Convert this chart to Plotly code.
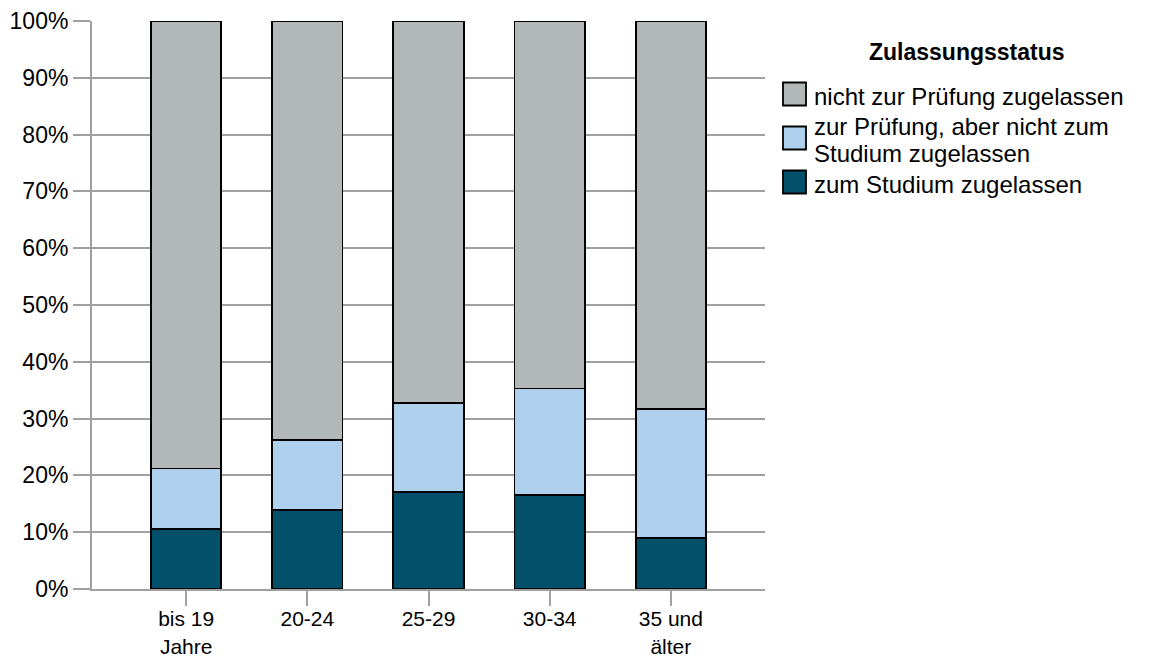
import plotly.graph_objects as go

categories = ["bis 19<br>Jahre", "20-24", "25-29", "30-34", "35 und<br>älter"]
studium = [10.6, 13.9, 17.1, 16.5, 9.0]
pruefung = [10.6, 12.3, 15.6, 18.8, 22.7]
nicht = [78.8, 73.8, 67.3, 64.7, 68.3]

legend_title = "Zulassungsstatus"
series = [
    ("zum Studium zugelassen", studium, "#03506a"),
    ("zur Prüfung, aber nicht zum\nStudium zugelassen", pruefung, "#afd0ed"),
    ("nicht zur Prüfung zugelassen", nicht, "#b2b7b7"),
]

# page body has an 8px default margin -> shift layout by 8px
OFF = 8
W, H = 1153 - OFF, 660 - OFF
# plot area in reference pixels: x 92..765, y 21..589
L, T = 92 - OFF, 21 - OFF
R, B = W - (765 - OFF), H - (589 - OFF)
PW, PH = W - L - R, H - T - B
FONT = "Liberation Sans, Arial, sans-serif"


def px(xr):
    return (xr - OFF - L) / PW


def py(yr):
    return (H - B - (yr - OFF)) / PH


fig = go.Figure()
for name, vals, col in series:
    fig.add_trace(go.Bar(
        x=categories, y=vals, name=name.replace("\n", " "), width=0.58,
        showlegend=False,
        marker=dict(color=col, line=dict(color="#000000", width=1.8)),
    ))

# custom legend (swatches + labels)
shapes = []
annotations = [dict(
    text="<b>" + legend_title + "</b>", x=px(967), y=py(52),
    xref="paper", yref="paper", xanchor="center", yanchor="middle",
    showarrow=False, font=dict(size=23, family=FONT, color="#000"),
)]
sw_centers = [94, 138, 182]
legend_items = list(reversed(series))
for (name, vals, col), cy in zip(legend_items, sw_centers):
    shapes.append(dict(
        type="rect", xref="paper", yref="paper",
        x0=px(783), x1=px(806), y0=py(cy + 11.5), y1=py(cy - 11.5),
        fillcolor=col, line=dict(color="#000000", width=1.8),
    ))
    lines = name.split("\n")
    n = len(lines)
    for i, line in enumerate(lines):
        ly = cy + (i - (n - 1) / 2) * 27 + 2
        annotations.append(dict(
            text=line, x=px(812), y=py(ly), xref="paper", yref="paper",
            xanchor="left", yanchor="middle", showarrow=False,
            font=dict(size=24, family=FONT, color="#000"),
        ))

fig.update_layout(
    barmode="stack",
    width=W, height=H,
    margin=dict(l=L, r=R, t=T, b=B, autoexpand=False),
    plot_bgcolor="white", paper_bgcolor="white",
    font=dict(family=FONT, size=23, color="#000000"),
    showlegend=False,
    shapes=shapes, annotations=annotations,
    xaxis=dict(
        range=[-0.777, 4.777], showgrid=False, showline=True,
        linecolor="#a0a0a0", linewidth=2, automargin=False,
        ticks="outside", ticklen=15, tickcolor="#a0a0a0", tickwidth=2,
        tickfont=dict(size=21), ticklabelstandoff=-5,
    ),
    yaxis=dict(
        range=[0, 100], dtick=10, ticksuffix="%",
        showgrid=True, gridcolor="#a0a0a0", gridwidth=2,
        showline=True, linecolor="#a0a0a0", linewidth=2, automargin=False,
        ticks="outside", ticklen=17, tickcolor="#a0a0a0", tickwidth=2,
        zeroline=False, tickfont=dict(size=23),
    ),
)

fig.write_html("out.html")
